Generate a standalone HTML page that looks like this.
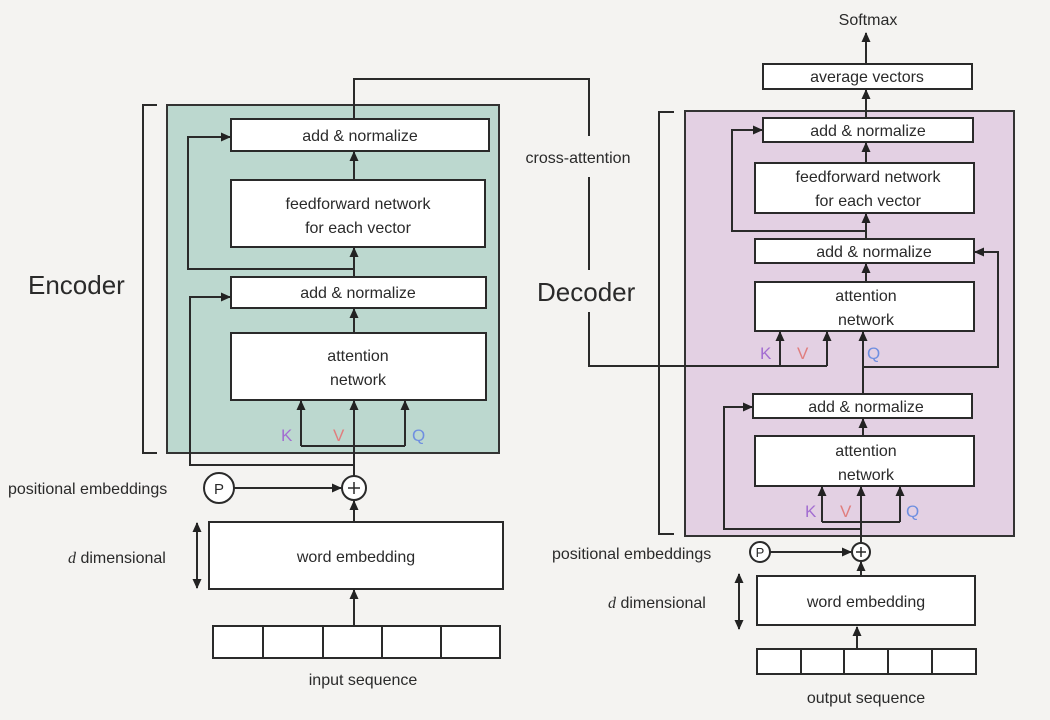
<!DOCTYPE html>
<html><head><meta charset="utf-8"><style>
html,body{margin:0;padding:0;background:#f4f3f1;}
svg{display:block;}
text{font-family:"Liberation Sans",sans-serif;fill:#2a2a2a;}
</style></head><body>
<svg width="1050" height="720" viewBox="0 0 1050 720" xmlns="http://www.w3.org/2000/svg">
<defs>
<marker id="a" markerWidth="10" markerHeight="10" refX="9" refY="5" orient="auto" markerUnits="userSpaceOnUse">
<path d="M0,0.5 L10,5 L0,9.5 Z" fill="#222"/></marker>
</defs>
<rect width="1050" height="720" fill="#f4f3f1"/>
<g stroke="#2a2a2a" stroke-width="2" fill="none">
<!-- Encoder -->
<rect x="167" y="105" width="332" height="348" fill="#bcd8cf" stroke="#333"/>
<path d="M157,105 H143 V453 H157"/>
<rect x="231" y="119" width="258" height="32" fill="#fff"/>
<rect x="231" y="180" width="254" height="67" fill="#fff"/>
<rect x="231" y="277" width="255" height="31" fill="#fff"/>
<rect x="231" y="333" width="255" height="67" fill="#fff"/>
<path d="M354,180 V152" marker-end="url(#a)"/>
<path d="M354,277 V248" marker-end="url(#a)"/>
<path d="M354,333 V309" marker-end="url(#a)"/>
<path d="M301,446 H405"/>
<path d="M301,446 V401" marker-end="url(#a)"/>
<path d="M405,446 V401" marker-end="url(#a)"/>
<path d="M354,476 V401" marker-end="url(#a)"/>
<path d="M354,465 H190 V297 H230" marker-end="url(#a)"/>
<path d="M354,269 H188 V137 H230" marker-end="url(#a)"/>
<circle cx="354" cy="488" r="12" fill="#fff"/>
<path d="M348,488 H360 M354,482 V494" stroke-width="1.5"/>
<circle cx="219" cy="488" r="15" fill="#fff"/>
<path d="M234,488 H341" marker-end="url(#a)"/>
<rect x="209" y="522" width="294" height="67" fill="#fff"/>
<path d="M354,522 V501" marker-end="url(#a)"/>
<path d="M197,540 V571"/>
<path d="M197,545 V523" marker-end="url(#a)"/>
<path d="M197,566 V588" marker-end="url(#a)"/>
<rect x="213" y="626" width="287" height="32" fill="#fff"/>
<path d="M263,626 V658 M323,626 V658 M382,626 V658 M441,626 V658"/>
<path d="M354,626 V590" marker-end="url(#a)"/>
<!-- Decoder -->
<rect x="685" y="111" width="329" height="425" fill="#e3d0e3" stroke="#333"/>
<path d="M674,112 H659 V534 H674"/>
<rect x="763" y="64" width="209" height="25" fill="#fff"/>
<path d="M866,64 V33" marker-end="url(#a)"/>
<path d="M866,118 V90" marker-end="url(#a)"/>
<rect x="763" y="118" width="210" height="24" fill="#fff"/>
<rect x="755" y="163" width="219" height="50" fill="#fff"/>
<rect x="755" y="239" width="219" height="24" fill="#fff"/>
<rect x="755" y="282" width="219" height="49" fill="#fff"/>
<path d="M866,163 V143" marker-end="url(#a)"/>
<path d="M866,239 V214" marker-end="url(#a)"/>
<path d="M866,282 V264" marker-end="url(#a)"/>
<path d="M866,231 H732 V130 H762" marker-end="url(#a)"/>
<!-- cross attention line -->
<path d="M354,119 V79 H589 V136 M589,177 V270 M589,312 V366 H827"/>
<path d="M780,366 V332" marker-end="url(#a)"/>
<path d="M827,366 V332" marker-end="url(#a)"/>
<path d="M863,394 V332" marker-end="url(#a)"/>
<path d="M863,367 H998 V252 H975" marker-end="url(#a)"/>
<rect x="753" y="394" width="219" height="24" fill="#fff"/>
<rect x="755" y="436" width="219" height="50" fill="#fff"/>
<path d="M863,436 V419" marker-end="url(#a)"/>
<path d="M822,522 H900"/>
<path d="M822,522 V487" marker-end="url(#a)"/>
<path d="M900,522 V487" marker-end="url(#a)"/>
<path d="M861,543 V487" marker-end="url(#a)"/>
<path d="M861,529 H724 V407 H752" marker-end="url(#a)"/>
<circle cx="861" cy="552" r="9" fill="#fff"/>
<path d="M856,552 H866 M861,547 V557" stroke-width="1.5"/>
<circle cx="760" cy="552" r="10" fill="#fff"/>
<path d="M770,552 H851" marker-end="url(#a)"/>
<rect x="757" y="576" width="218" height="49" fill="#fff"/>
<path d="M861,576 V562" marker-end="url(#a)"/>
<path d="M739,590 V612"/>
<path d="M739,595 V574" marker-end="url(#a)"/>
<path d="M739,608 V629" marker-end="url(#a)"/>
<rect x="757" y="649" width="219" height="25" fill="#fff"/>
<path d="M801,649 V674 M844,649 V674 M888,649 V674 M932,649 V674"/>
<path d="M857,649 V627" marker-end="url(#a)"/>
</g>
<g font-size="16" text-anchor="middle">
<text x="360" y="141">add &amp; normalize</text>
<text x="358" y="209">feedforward network</text>
<text x="358" y="233">for each vector</text>
<text x="358" y="298">add &amp; normalize</text>
<text x="358" y="361">attention</text>
<text x="358" y="385">network</text>
<text x="356" y="562">word embedding</text>
<text x="363" y="685">input sequence</text>
<text x="578" y="163">cross-attention</text>
<text x="868" y="25">Softmax</text>
<text x="867" y="82">average vectors</text>
<text x="868" y="136">add &amp; normalize</text>
<text x="868" y="182">feedforward network</text>
<text x="868" y="206">for each vector</text>
<text x="874" y="257">add &amp; normalize</text>
<text x="866" y="301">attention</text>
<text x="866" y="325">network</text>
<text x="866" y="412">add &amp; normalize</text>
<text x="866" y="456">attention</text>
<text x="866" y="480">network</text>
<text x="866" y="607">word embedding</text>
<text x="866" y="703">output sequence</text>
<text x="219" y="494" font-size="15">P</text>
<text x="760" y="557" font-size="13">P</text>
</g>
<g font-size="16">
<text x="8" y="494">positional embeddings</text>
<text x="552" y="559">positional embeddings</text>
<text x="68" y="563"><tspan font-family="Liberation Serif" font-style="italic">d</tspan> dimensional</text>
<text x="608" y="608"><tspan font-family="Liberation Serif" font-style="italic">d</tspan> dimensional</text>
</g>
<text x="28" y="294" font-size="26">Encoder</text>
<text x="537" y="301" font-size="26">Decoder</text>
<g font-size="17">
<text x="281" y="441" style="fill:#a36ed1">K</text>
<text x="333" y="441" style="fill:#e07e7e">V</text>
<text x="412" y="441" style="fill:#6f8fe0">Q</text>
<text x="760" y="359" style="fill:#a36ed1">K</text>
<text x="797" y="359" style="fill:#e07e7e">V</text>
<text x="867" y="359" style="fill:#6f8fe0">Q</text>
<text x="805" y="517" style="fill:#a36ed1">K</text>
<text x="840" y="517" style="fill:#e07e7e">V</text>
<text x="906" y="517" style="fill:#6f8fe0">Q</text>
</g>
</svg>
</body></html>
